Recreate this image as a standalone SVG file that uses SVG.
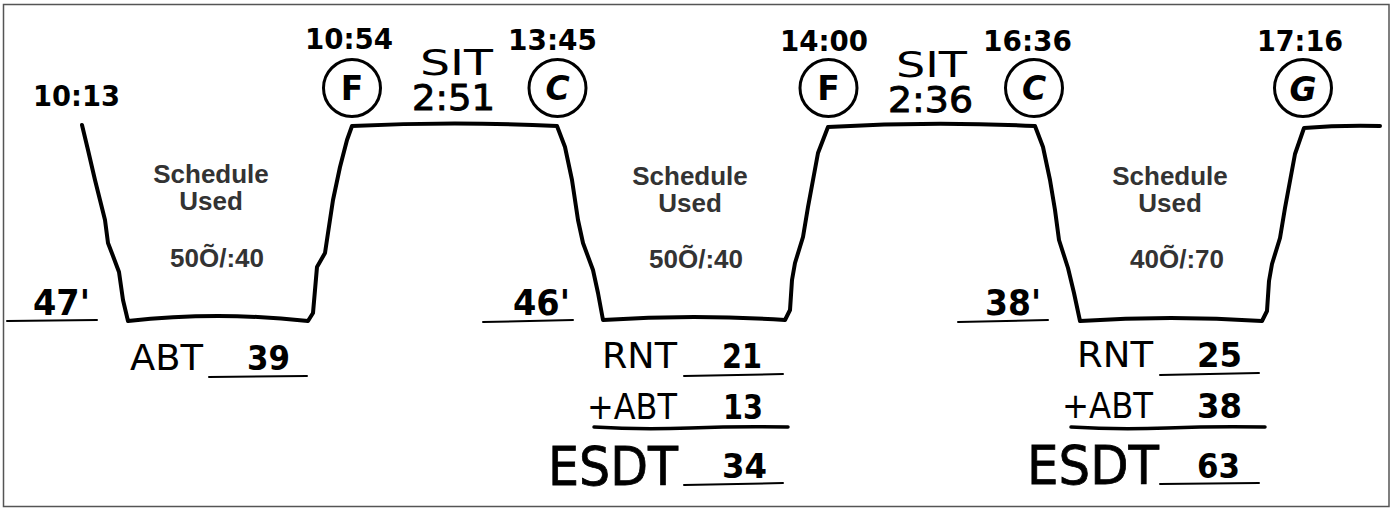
<svg xmlns="http://www.w3.org/2000/svg" width="1391" height="508" viewBox="0 0 1391 508">
<style>
.frame{fill:#fff;stroke:#555;stroke-width:1.5}
.trace{fill:none;stroke:#000;stroke-width:4;stroke-linejoin:round;stroke-linecap:round}
.ul{fill:none;stroke:#000;stroke-width:2;stroke-linecap:round}
.sum{fill:none;stroke:#000;stroke-width:3.5;stroke-linecap:round}
.ring{fill:none;stroke:#000;stroke-width:3}
.hand{font-family:"DejaVu Sans",sans-serif;fill:#000}
.time{font-size:28px;font-weight:bold}
.big{font-size:36px;font-weight:bold}
.lab{font-size:35px}
.num{font-size:34px;font-weight:bold}
.esdt{font-size:54px;stroke:#000;stroke-width:0.8}
.sit{font-size:36px}
.dur{font-size:35px;stroke:#000;stroke-width:0.9}
.letter{font-size:33px;font-weight:bold;text-anchor:middle}
.sched{font-family:"Liberation Sans",Arial,sans-serif;font-size:26px;font-weight:bold;fill:#333;text-anchor:middle}
</style>
<rect class="frame" x="3.5" y="4.5" width="1385.5" height="502"/>

<g id="connectors">
<path class="trace" d="M82,125 L88,150 L95,180 L100,200 L105,220 L108,243 L113,256 L119,272 L123,300 L128,321 Q218,311 308,321 L313,313 L315,290 L317,267 L325,253 L328,233 L333,200 L340,167 L347,140 L352,126 Q455,121 557,126 L565,147 L572,180 L575,200 L578,220 L583,243 L593,270 L598,293 L603,320 Q694,314 785,320 L790,310 L792,280 L795,263 L803,237 L808,207 L813,180 L818,153 L828,127 Q931,121 1035,126 L1043,147 L1050,180 L1055,210 L1059,240 L1068,268 L1074,293 L1080,321 Q1171,315 1262,321 L1267,311 L1269,281 L1272,264 L1280,238 L1285,208 L1290,181 L1295,154 L1304,128 Q1340,125 1380,126"/>
</g>

<g id="node-start">
<text class="hand time" x="33" y="106" textLength="87" lengthAdjust="spacingAndGlyphs">10:13</text>
</g>

<g id="node-f1">
<text class="hand time" x="305" y="49" textLength="88" lengthAdjust="spacingAndGlyphs">10:54</text>
<circle class="ring" cx="352" cy="88" r="28.5"/>
<text class="hand letter" x="352" y="100">F</text>
</g>

<g id="node-sit1">
<text class="hand sit" x="420" y="75" textLength="73" lengthAdjust="spacingAndGlyphs">SIT</text>
<text class="hand dur" x="412" y="110" textLength="83" lengthAdjust="spacingAndGlyphs">2:51</text>
</g>

<g id="node-c1">
<text class="hand time" x="508" y="50" textLength="89" lengthAdjust="spacingAndGlyphs">13:45</text>
<circle class="ring" cx="557.5" cy="88" r="28.5"/>
<text class="hand letter" x="557.5" y="100" font-style="italic" font-size="30">C</text>
</g>

<g id="node-f2">
<text class="hand time" x="780" y="51" textLength="88" lengthAdjust="spacingAndGlyphs">14:00</text>
<circle class="ring" cx="828.5" cy="88" r="28.5"/>
<text class="hand letter" x="828.5" y="100">F</text>
</g>

<g id="node-sit2">
<text class="hand sit" x="896" y="77" textLength="71" lengthAdjust="spacingAndGlyphs">SIT</text>
<text class="hand dur" x="888" y="112" textLength="85" lengthAdjust="spacingAndGlyphs">2:36</text>
</g>

<g id="node-c2">
<text class="hand time" x="983" y="51" textLength="89" lengthAdjust="spacingAndGlyphs">16:36</text>
<circle class="ring" cx="1034" cy="88" r="28.5"/>
<text class="hand letter" x="1034" y="100" font-style="italic" font-size="30">C</text>
</g>

<g id="node-g">
<text class="hand time" x="1257" y="51" textLength="86" lengthAdjust="spacingAndGlyphs">17:16</text>
<circle class="ring" cx="1303" cy="88" r="28.5"/>
<text class="hand letter" x="1303" y="101" font-style="italic" font-size="30">G</text>
</g>

<g id="node-trough1">
<text class="sched" x="211" y="183">Schedule</text>
<text class="sched" x="211" y="210">Used</text>
<text class="sched" x="217" y="267">50Õ/:40</text>
<text class="hand big" x="33" y="315" textLength="57" lengthAdjust="spacingAndGlyphs">47'</text>
<path class="ul" d="M7,321 L97,320"/>
<text class="hand lab" x="130" y="370" textLength="73" lengthAdjust="spacingAndGlyphs">ABT</text>
<text class="hand num" x="247" y="370" textLength="43" lengthAdjust="spacingAndGlyphs">39</text>
<path class="ul" d="M209,377 L307,376"/>
</g>

<g id="node-trough2">
<text class="sched" x="690" y="185">Schedule</text>
<text class="sched" x="690" y="212">Used</text>
<text class="sched" x="696" y="268">50Õ/:40</text>
<text class="hand big" x="513" y="315" textLength="57" lengthAdjust="spacingAndGlyphs">46'</text>
<path class="ul" d="M483,322 L573,320"/>
<text class="hand lab" x="602" y="368" textLength="75" lengthAdjust="spacingAndGlyphs">RNT</text>
<text class="hand num" x="722" y="368" textLength="40" lengthAdjust="spacingAndGlyphs">21</text>
<path class="ul" d="M684,376 L783,374"/>
<text class="hand lab" x="587" y="419" textLength="90" lengthAdjust="spacingAndGlyphs">+ABT</text>
<text class="hand num" x="723" y="419" textLength="40" lengthAdjust="spacingAndGlyphs">13</text>
<path class="sum" d="M594,427 Q640,430 690,428 Q740,426 788,427"/>
<text class="hand esdt" x="548" y="485" textLength="130" lengthAdjust="spacingAndGlyphs">ESDT</text>
<text class="hand num" x="722" y="478" textLength="45" lengthAdjust="spacingAndGlyphs">34</text>
<path class="ul" d="M684,485 L783,483"/>
</g>

<g id="node-trough3">
<text class="sched" x="1170" y="185">Schedule</text>
<text class="sched" x="1170" y="212">Used</text>
<text class="sched" x="1177" y="268">40Õ/:70</text>
<text class="hand big" x="985" y="315" textLength="56" lengthAdjust="spacingAndGlyphs">38'</text>
<path class="ul" d="M958,322 L1048,320"/>
<text class="hand lab" x="1077" y="367" textLength="76" lengthAdjust="spacingAndGlyphs">RNT</text>
<text class="hand num" x="1197" y="367" textLength="45" lengthAdjust="spacingAndGlyphs">25</text>
<path class="ul" d="M1160,375 L1259,373"/>
<text class="hand lab" x="1062" y="418" textLength="91" lengthAdjust="spacingAndGlyphs">+ABT</text>
<text class="hand num" x="1197" y="418" textLength="45" lengthAdjust="spacingAndGlyphs">38</text>
<path class="sum" d="M1071,427 Q1117,430 1167,428 Q1217,426 1265,427"/>
<text class="hand esdt" x="1027" y="484" textLength="132" lengthAdjust="spacingAndGlyphs">ESDT</text>
<text class="hand num" x="1197" y="478" textLength="43" lengthAdjust="spacingAndGlyphs">63</text>
<path class="ul" d="M1160,484 L1259,483"/>
</g>
</svg>
